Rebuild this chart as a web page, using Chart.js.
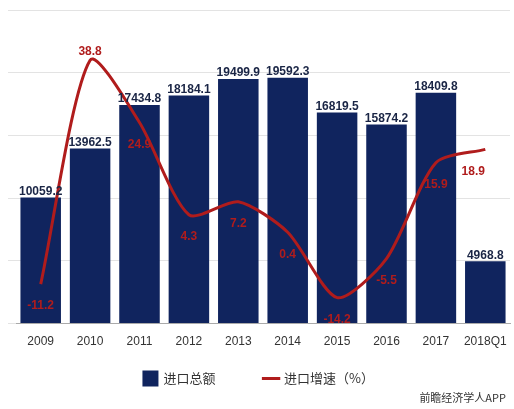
<!DOCTYPE html>
<html><head><meta charset="utf-8">
<script src="https://cdn.jsdelivr.net/npm/chart.js@4"></script>
<style>body{margin:0;background:#fff}#w{width:514px;height:409px;position:relative}#n{position:absolute;right:8px;bottom:4px;font:11px "Noto Sans CJK SC";color:#333}</style>
</head><body><div id="w"><canvas id="c" width="514" height="395"></canvas><div id="n">前瞻经济学人APP</div></div>
<script>
const categories=['2009','2010','2011','2012','2013','2014','2015','2016','2017','2018Q1'];
const importTotal=[10059.2,13962.5,17434.8,18184.1,19499.9,19592.3,16819.5,15874.2,18409.8,4968.8];
const importGrowth=[-11.2,38.8,24.9,4.3,7.2,0.4,-14.2,-5.5,15.9,18.9];
const labelPlugin={id:'lbl',afterDatasetsDraw(ch){const x=ch.ctx;x.save();x.font='bold 12px "Liberation Sans", Arial';x.textAlign='center';
ch.getDatasetMeta(0).data.forEach((b,i)=>{x.fillStyle='#1a2545';x.fillText(importTotal[i].toFixed(1),b.x,b.y-6);});
ch.getDatasetMeta(1).data.forEach((p,i)=>{x.fillStyle='#b01c1c';x.fillText(importGrowth[i].toFixed(1),p.x+(i==9?-12:0),p.y+(i==1?-8:22));});
x.restore();}};
new Chart(document.getElementById('c'),{type:'bar',data:{labels:categories,datasets:[
{type:'bar',label:'进口总额          ',data:importTotal,backgroundColor:'#10245e',yAxisID:'y',order:2,categoryPercentage:0.82,barPercentage:1,pointStyle:'rect'},
{type:'line',label:'进口增速（%）',data:importGrowth,borderColor:'#b01c1c',backgroundColor:'#b01c1c',borderWidth:3,pointRadius:0,tension:0.25,yAxisID:'y1',order:1,pointStyle:'line'}]},
options:{responsive:false,animation:false,layout:{padding:{left:8,right:4,top:10}},
plugins:{legend:{position:'bottom',labels:{usePointStyle:true,font:{size:13,family:'"Noto Sans CJK SC"'},color:'#333',boxWidth:40,padding:20,
 generateLabels(ch){const l=Chart.defaults.plugins.legend.labels.generateLabels(ch);l.forEach(o=>{o.lineWidth=3;o.strokeStyle=o.datasetIndex?'#b01c1c':'#10245e';});return l.sort((a,b)=>a.datasetIndex-b.datasetIndex);}}},tooltip:{enabled:false}},
scales:{x:{grid:{display:false},border:{color:'#aaa'},ticks:{color:'#333',maxRotation:0,autoSkip:false,font:{size:12,family:'"Liberation Sans"'}}},
y:{min:0,max:25000,ticks:{display:false,stepSize:5000},grid:{color:'#e3e3e3'},border:{display:false}},
y1:{min:-20,max:50,display:false}}},plugins:[labelPlugin]});
</script></body></html>
